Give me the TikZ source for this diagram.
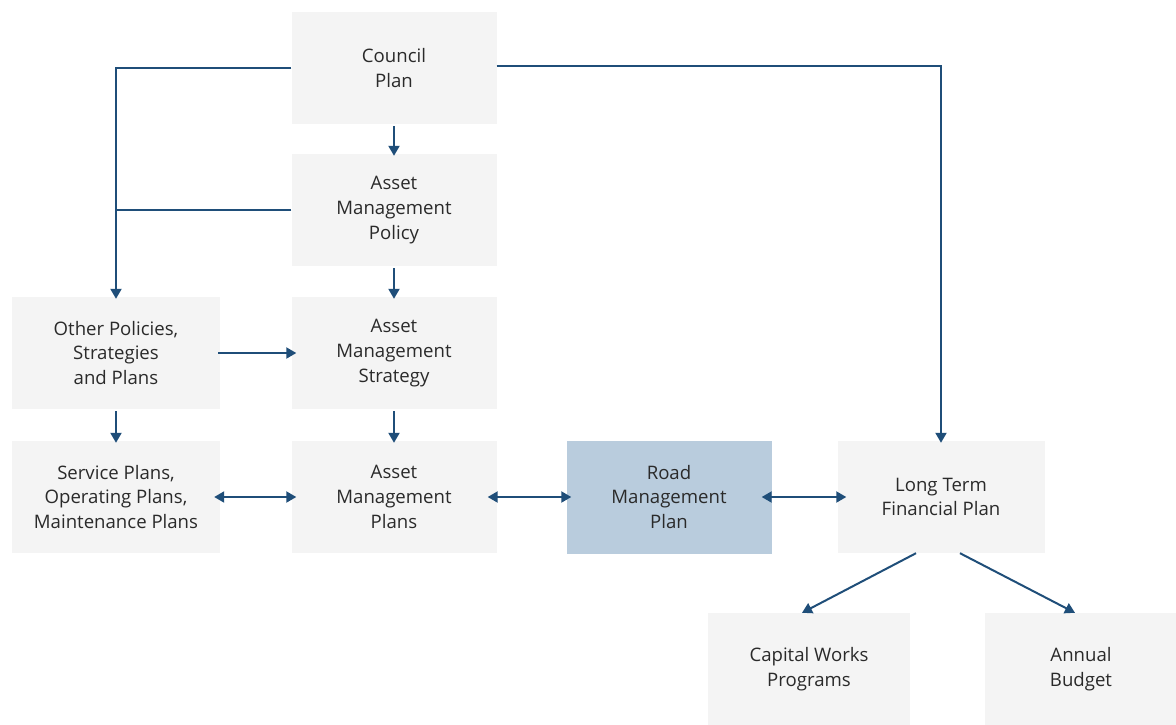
\documentclass[tikz,border=0pt]{standalone}
\usepackage{fontspec}
\setmainfont{Open Sans}
\usetikzlibrary{arrows.meta,calc}
\definecolor{boxgray}{HTML}{F4F4F4}
\definecolor{roadblue}{HTML}{B9CCDD}
\definecolor{arrowblue}{HTML}{1F4E79}
\definecolor{txt}{HTML}{2A2A2A}
\tikzset{
  box/.style={fill=boxgray, draw=none, minimum width=205pt, minimum height=112pt, align=center, text=txt, font=\fontsize{18.6pt}{24.8pt}\selectfont, inner sep=0pt},
  roadbox/.style={box, fill=roadblue, minimum height=113pt},
  conn/.style={draw=arrowblue, line width=2pt, -{Triangle[length=10pt,width=11pt]}},
  biconn/.style={draw=arrowblue, line width=2pt, {Triangle[length=10pt,width=11pt]}-{Triangle[length=10pt,width=11pt]}},
  plain/.style={draw=arrowblue, line width=2pt}
}
\begin{document}
\begin{tikzpicture}[x=1pt,y=-1pt]
\useasboundingbox[fill=white] (0,0) rectangle (1176,724);
\node[box] (council) at (394,68) {Council\\Plan};
\node[box] (policy) at (394,210) {Asset\\Management\\Policy};
\node[box] (strategy) at (394,353) {Asset\\Management\\Strategy};
\node[box] (amplans) at (394,497) {Asset\\Management\\Plans};
\node[box, minimum width=208pt] (other) at (116,353) {Other Policies,\\Strategies\\and Plans};
\node[box, minimum width=208pt] (service) at (116,497) {Service Plans,\\Operating Plans,\\Maintenance Plans};
\node[roadbox] (road) at (669,497) {Road\\Management\\Plan};
\node[box, minimum width=207pt] (ltfp) at (941,497) {Long Term\\Financial Plan};
\node[box, minimum width=202pt] (capital) at (809,669) {Capital Works\\Programs};
\node[box, minimum width=192pt] (budget) at (1081,669) {Annual\\Budget};

\draw[conn, shorten <=2pt, shorten >=-2pt] (council.south) -- (policy.north);
\draw[conn, shorten <=2pt, shorten >=-2pt] (policy.south) -- (strategy.north);
\draw[conn, shorten <=2pt, shorten >=-2pt] (strategy.south) -- (amplans.north);
\draw[conn, shorten <=2pt, shorten >=-2pt] (other.south) -- (service.north);
\draw[conn, shorten <=-2pt, shorten >=-5pt] (other.east) -- (strategy.west);
\draw[conn, shorten >=-2pt] (council.west) -| (other.north);
\draw[plain] (policy.west) -- (policy.west -| other.north);
\draw[conn, shorten >=-2pt] ($(council.east)+(0,-2)$) -| (ltfp.north);
\draw[biconn, shorten <=-6pt, shorten >=-5pt] (service.east) -- (amplans.west);
\draw[biconn, shorten <=-9pt, shorten >=-5pt] (amplans.east) -- (road.west);
\draw[biconn, shorten <=-10pt, shorten >=-9pt] (road.east) -- (ltfp.west);
\draw[conn] ($(ltfp.south)+(-25,0)$) -- ($(capital.north)+(-7,0)$);
\draw[conn] ($(ltfp.south)+(19,0)$) -- ($(budget.north)+(-6,0)$);
\end{tikzpicture}
\end{document}
